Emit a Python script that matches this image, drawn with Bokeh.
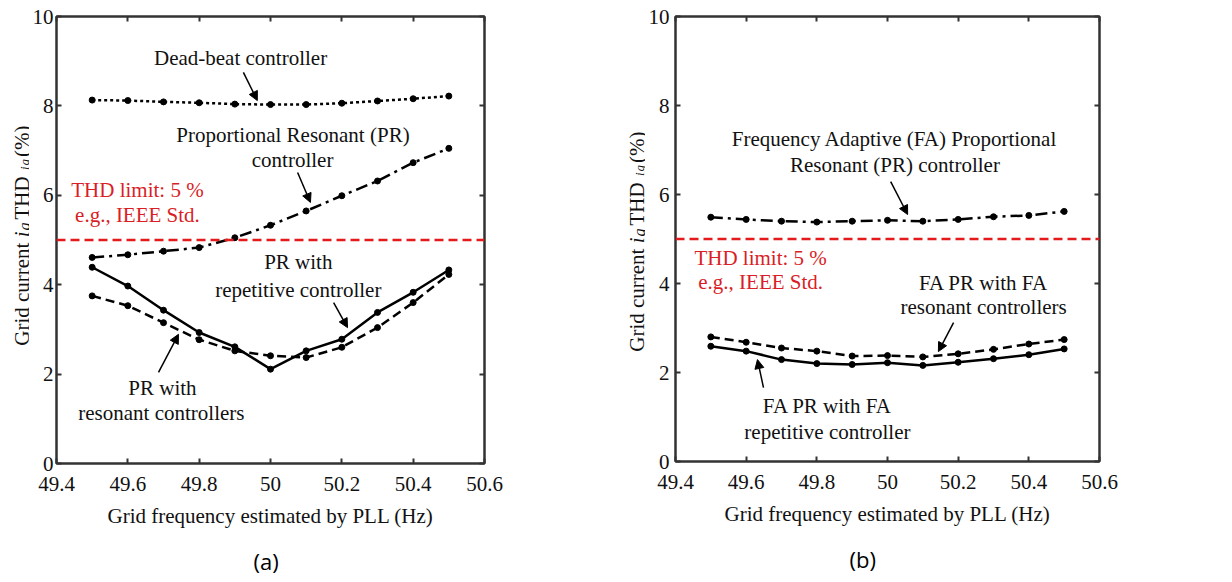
import math
from bokeh.plotting import figure
from bokeh.layouts import row
from bokeh.models import (Arrow, NormalHead, LinearAxis, FixedTicker, Title,
                          CustomJSTickFormatter, Span, Range1d)
from bokeh.core.properties import value
from bokeh.embed import file_html
from bokeh.resources import INLINE

# ---------------- data ----------------
freq = [49.5, 49.6, 49.7, 49.8, 49.9, 50.0, 50.1, 50.2, 50.3, 50.4, 50.5]
# panel (a)
deadbeat = [8.13, 8.12, 8.09, 8.07, 8.04, 8.03, 8.03, 8.06, 8.11, 8.16, 8.22]
pr_ctrl = [4.61, 4.67, 4.75, 4.83, 5.05, 5.33, 5.65, 5.99, 6.32, 6.73, 7.05]
pr_rep = [4.39, 3.97, 3.43, 2.93, 2.61, 2.11, 2.52, 2.78, 3.38, 3.83, 4.33]
pr_res = [3.75, 3.53, 3.15, 2.77, 2.52, 2.41, 2.37, 2.60, 3.04, 3.60, 4.23]
# panel (b)
fa_pr = [5.49, 5.44, 5.40, 5.38, 5.40, 5.42, 5.40, 5.44, 5.50, 5.53, 5.62]
fa_res = [2.80, 2.68, 2.55, 2.48, 2.37, 2.38, 2.35, 2.42, 2.52, 2.64, 2.74]
fa_rep = [2.59, 2.48, 2.29, 2.20, 2.18, 2.22, 2.16, 2.23, 2.31, 2.40, 2.53]

thd_limit = 5
x_ticks = [49.4, 49.6, 49.8, 50.0, 50.2, 50.4, 50.6]
y_ticks = [0, 2, 4, 6, 8, 10]

SERIF = "Liberation Serif"
INK = "#111111"
FRAME = "#333333"
RED_LINE = "#e41a1c"
RED_TEXT = "#d91e26"
FS = 21
H = 572

# Times-like advance widths (em) for the composed y-axis title
WID = {"G": .722, "r": .333, "i": .278, "d": .5, " ": .25, "c": .444, "u": .5,
       "e": .444, "n": .5, "t": .278, "T": .611, "H": .722, "D": .722,
       "(": .333, "%": .833, ")": .333, "g": .5}


def tw(s, size):
    return sum(WID[c] for c in s) * size


def make_fig(bl, br, bt, fw, fh, ystand, caption, cap_offset):
    p = figure(frame_width=fw, frame_height=fh, height=H,
               x_range=Range1d(49.4, 50.6), y_range=Range1d(0, 10),
               output_backend="svg", toolbar_location=None,
               min_border_left=bl, min_border_right=br,
               min_border_top=bt, min_border_bottom=H - bt - fh,
               background_fill_color="white", border_fill_color="white")
    p.grid.visible = False
    p.outline_line_color = FRAME
    p.outline_line_width = 2
    fmt = CustomJSTickFormatter(code="return Number(tick.toFixed(1)).toString();")
    p.xaxis.ticker = FixedTicker(ticks=x_ticks)
    p.xaxis.formatter = fmt
    p.yaxis.ticker = FixedTicker(ticks=y_ticks)
    for ax in (p.xaxis[0], p.yaxis[0]):
        ax.major_tick_in = 5
        ax.major_tick_out = 0
        ax.minor_tick_line_color = None
        ax.major_tick_line_color = FRAME
        ax.major_tick_line_width = 2
        ax.axis_line_color = FRAME
        ax.axis_line_width = 2
        ax.major_label_text_font = SERIF
        ax.major_label_text_font_size = f"{FS}px"
        ax.major_label_text_color = INK
    p.xaxis.major_label_standoff = 13
    p.yaxis.major_label_standoff = ystand
    p.xaxis.axis_label = "Grid frequency estimated by PLL (Hz)"
    p.xaxis.axis_label_text_font = SERIF
    p.xaxis.axis_label_text_font_size = f"{FS}px"
    p.xaxis.axis_label_text_font_style = "normal"
    p.xaxis.axis_label_text_color = INK
    p.xaxis.axis_label_standoff = 10
    for loc, ticks in (("above", x_ticks), ("right", y_ticks)):
        ax = LinearAxis(ticker=FixedTicker(ticks=ticks), major_label_text_font_size="1px",
                        major_label_text_color=None,
                        major_tick_in=5, major_tick_out=0, minor_tick_line_color=None,
                        major_tick_line_color=FRAME, major_tick_line_width=2,
                        axis_line_color=FRAME, axis_line_width=2, major_label_standoff=0)
        p.add_layout(ax, loc)
    p.add_layout(Span(location=thd_limit, dimension="width", line_color=RED_LINE,
                      line_width=2.5, line_dash="9 5"))
    p.add_layout(Title(text=caption, align="left", offset=cap_offset, standoff=27,
                       text_font="Open Sans", text_font_size="22px",
                       text_font_style="normal", text_color="black"), "below")
    return p


def side_fig(w, bt, fh):
    # narrow strip that carries the rotated, mixed-style y-axis title
    s = figure(frame_width=w, frame_height=fh, height=H, x_range=Range1d(0, w),
               y_range=Range1d(0, 10), x_axis_location=None, y_axis_location=None,
               output_backend="svg", toolbar_location=None,
               min_border_left=0, min_border_right=0, min_border_top=bt,
               min_border_bottom=H - bt - fh, outline_line_color=None,
               background_fill_color="white", border_fill_color="white")
    s.grid.visible = False
    return s


def ytitle(s, fh, base_x, center_px):
    pieces = [("Grid current ", FS, "normal", 0, 0), ("i", FS, "italic", 0, 1),
              ("g", 16, "italic", 2.5, 3), (" THD", FS, "normal", 0, 1),
              ("i", 13, "italic", 3, 1), ("g", 13, "italic", 3, 2),
              (" (%)", FS, "normal", 0, 0)]
    total = sum(tw(t, sz) + gap for t, sz, _, _, gap in pieces)
    pos = center_px - total / 2
    for t, sz, style, shift, gap in pieces:
        s.text(x=[base_x + shift], y=[pos * 10 / fh], text=[t], angle=math.pi / 2,
               text_font=value(SERIF), text_font_size=value(f"{sz}px"),
               text_font_style=value(style), text_color=INK,
               text_align="left", text_baseline="alphabetic")
        pos += tw(t, sz) + gap


def series(p, ys, dash):
    p.line(freq, ys, line_color="black", line_width=2.5, line_dash=dash)
    p.scatter(freq, ys, size=6, color="black")


def txt(p, x, y, s, color=INK):
    p.text(x=[x], y=[y], text=[s], text_font=value(SERIF),
           text_font_size=value(f"{FS}px"), text_color=color,
           text_align="center", text_baseline="middle")


def arrow(p, x0, y0, x1, y1):
    p.add_layout(Arrow(end=NormalHead(size=9, fill_color="black", line_color="black",
                                      line_width=1),
                       x_start=x0, y_start=y0, x_end=x1, y_end=y1,
                       line_color="black", line_width=1.5))


# ---------------- panel (a) ----------------
FW1, FH1, BT1 = 428, 447, 13
sa = side_fig(29, BT1, FH1)
ytitle(sa, FH1, 21, 230.5)
pa = make_fig(24, 129, BT1, FW1, FH1, 3, "(a)", 197)
series(pa, deadbeat, "3 3")
series(pa, pr_ctrl, "12 5 3 5")
series(pa, pr_rep, "solid")
series(pa, pr_res, "9 5")

txt(pa, 49.916, 9.08, "Dead-beat controller")
arrow(pa, 49.924, 8.75, 49.963, 8.12)
txt(pa, 50.063, 7.36, "Proportional Resonant (PR)")
txt(pa, 50.062, 6.80, "controller")
arrow(pa, 50.076, 6.51, 50.112, 5.84)
txt(pa, 49.627, 6.11, "THD limit: 5 %", color=RED_TEXT)
txt(pa, 49.627, 5.55, "e.g., IEEE Std.", color=RED_TEXT)
txt(pa, 50.078, 4.50, "PR with")
txt(pa, 50.078, 3.89, "repetitive controller")
arrow(pa, 50.177, 3.60, 50.216, 3.04)
txt(pa, 49.697, 1.70, "PR with")
txt(pa, 49.694, 1.14, "resonant controllers")
arrow(pa, 49.686, 2.04, 49.742, 2.89)

# ---------------- panel (b) ----------------
FW2, FH2, BT2 = 424, 445, 16
sb = side_fig(32, BT2, FH2)
ytitle(sb, FH2, 23, 222.5)
pb = make_fig(28, 20, BT2, FW2, FH2, 6, "(b)", 174)
series(pb, fa_pr, "12 5 3 5")
series(pb, fa_res, "9 5")
series(pb, fa_rep, "solid")

txt(pb, 50.020, 7.24, "Frequency Adaptive (FA) Proportional")
txt(pb, 50.021, 6.67, "Resonant (PR) controller")
arrow(pb, 50.009, 6.29, 50.057, 5.55)
txt(pb, 49.641, 4.58, "THD limit: 5 %", color=RED_TEXT)
txt(pb, 49.641, 4.04, "e.g., IEEE Std.", color=RED_TEXT)
txt(pb, 50.272, 4.02, "FA PR with FA")
txt(pb, 50.272, 3.48, "resonant controllers")
arrow(pb, 50.187, 3.12, 50.144, 2.47)
txt(pb, 49.830, 1.24, "FA PR with FA")
txt(pb, 49.830, 0.67, "repetitive controller")
arrow(pb, 49.649, 1.66, 49.632, 2.29)

layout = row(sa, pa, sb, pb)
open("out.html", "w").write(file_html(layout, INLINE))
